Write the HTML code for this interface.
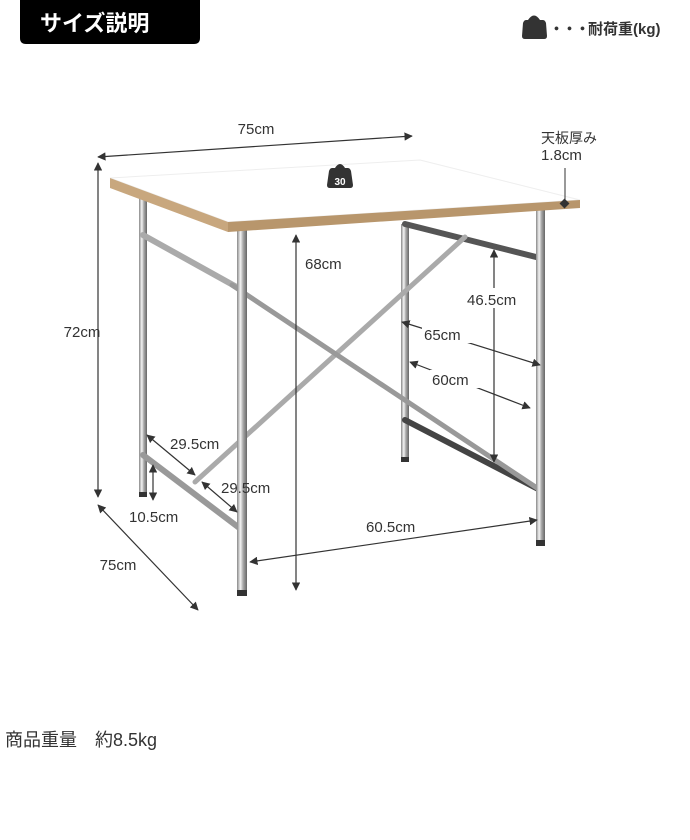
<!DOCTYPE html>
<html><head><meta charset="utf-8"><style>
body{margin:0;background:#fff;}
svg{display:block;font-family:"Liberation Sans","Noto Sans CJK JP",sans-serif;}
</style></head><body>
<svg width="690" height="840" viewBox="0 0 690 840" xmlns="http://www.w3.org/2000/svg">
<defs>
<marker id="a" viewBox="0 0 10 10" refX="9" refY="5" markerWidth="7" markerHeight="7" orient="auto-start-reverse"><path d="M0,0L10,5L0,10z" fill="#333"/></marker>
<linearGradient id="leg" x1="0" x2="1" y1="0" y2="0"><stop offset="0" stop-color="#888"/><stop offset=".35" stop-color="#f4f4f4"/><stop offset=".6" stop-color="#aaa"/><stop offset="1" stop-color="#666"/></linearGradient>
</defs>
<path d="M20,0H200V38Q200,44 194,44H26Q20,44 20,38Z" fill="#000"/>
<text x="40" y="31" font-size="22" font-weight="bold" fill="#fff">サイズ説明</text>
<path d="M528,20q6,-9 12,0l3,0q2,0 3,3l1,13q0,3 -3,3h-19q-3,0 -3,-3l1,-13q1,-3 3,-3z" fill="#333"/>
<text x="549" y="34" font-size="15" font-weight="bold" fill="#333" letter-spacing="-2">・・・<tspan letter-spacing="0">耐荷重(kg)</tspan></text>

<g stroke-linecap="round">
<rect x="401" y="224" width="8" height="238" fill="url(#leg)"/>
<line x1="405" y1="224" x2="540" y2="258" stroke="#555" stroke-width="6"/>
<line x1="405" y1="420" x2="540" y2="490" stroke="#444" stroke-width="6"/>
<rect x="139" y="198" width="8" height="299" fill="url(#leg)"/>
<line x1="143" y1="235" x2="242" y2="290" stroke="#aaa" stroke-width="6"/>
<line x1="143" y1="455" x2="242" y2="530" stroke="#999" stroke-width="6"/>
<line x1="195" y1="482" x2="465" y2="237" stroke="#aaa" stroke-width="5"/>
<line x1="232" y1="285" x2="540" y2="490" stroke="#999" stroke-width="5"/>
<rect x="536" y="205" width="9" height="340" fill="url(#leg)"/>
<rect x="237" y="230" width="10" height="365" fill="url(#leg)"/>
<rect x="139" y="492" width="8" height="5" fill="#333"/>
<rect x="401" y="457" width="8" height="5" fill="#333"/>
<rect x="536" y="540" width="9" height="6" fill="#333"/>
<rect x="237" y="590" width="10" height="6" fill="#333"/>
</g>
<polygon points="110,178 420,160 580,200 228,222" fill="#fff" stroke="#eee"/>
<polygon points="110,178 228,222 228,232 110,188" fill="#c8a77e"/>
<polygon points="228,222 580,200 580,208 228,232" fill="#b8966c"/>
<path d="M335,168q5,-8 10,0l3,0q2,0 3,3l2,14q0,3 -3,3h-20q-3,0 -3,-3l2,-14q1,-3 3,-3z" fill="#333"/>
<text x="340" y="185" font-size="10" font-weight="bold" fill="#fff" text-anchor="middle">30</text>

<g stroke="#333" stroke-width="1.2" fill="none" marker-start="url(#a)" marker-end="url(#a)">
<line x1="98" y1="157" x2="412" y2="136"/>
<line x1="98" y1="163" x2="98" y2="497"/>
<line x1="98" y1="505" x2="198" y2="610"/>
<line x1="296" y1="235" x2="296" y2="590"/>
<line x1="494" y1="250" x2="494" y2="462"/>
<line x1="402" y1="322" x2="540" y2="365"/>
<line x1="410" y1="362" x2="530" y2="408"/>
<line x1="147" y1="435" x2="195" y2="475"/>
<line x1="202" y1="482" x2="237" y2="512"/>
<line x1="153" y1="465" x2="153" y2="500"/>
<line x1="250" y1="562" x2="537" y2="520"/>
</g>
<line x1="565" y1="168" x2="565" y2="205" stroke="#333"/>
<rect x="561" y="200" width="7" height="7" transform="rotate(45 564.5 203.5)" fill="#333"/>
<g font-size="15" fill="#333">
<rect x="303" y="252" width="50" height="18" fill="#fff"/>
<rect x="466" y="288" width="62" height="20" fill="#fff"/>
<rect x="422" y="325" width="50" height="18" fill="#fff"/>
<rect x="430" y="370" width="50" height="18" fill="#fff"/>
<rect x="364" y="516" width="64" height="18" fill="#fff"/>
<text x="256" y="134" text-anchor="middle">75cm</text>
<text x="541" y="143" font-size="14">天板厚み</text>
<text x="541" y="160">1.8cm</text>
<text x="82" y="337" text-anchor="middle">72cm</text>
<text x="118" y="570" text-anchor="middle">75cm</text>
<text x="305" y="269">68cm</text>
<text x="467" y="305">46.5cm</text>
<text x="424" y="340">65cm</text>
<text x="432" y="385">60cm</text>
<text x="170" y="449">29.5cm</text>
<text x="221" y="493">29.5cm</text>
<text x="129" y="522">10.5cm</text>
<text x="366" y="532">60.5cm</text>
</g>
<text x="5" y="746" font-size="18" fill="#333">商品重量　約8.5kg</text>
</svg>
</body></html>
